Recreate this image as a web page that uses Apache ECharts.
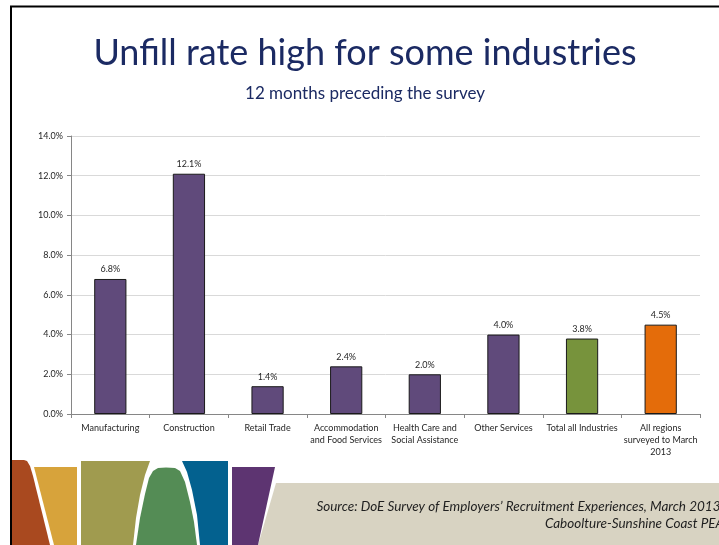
<!DOCTYPE html>
<html>
<head>
<meta charset="utf-8">
<script src="https://cdn.jsdelivr.net/npm/echarts@6/dist/echarts.min.js"></script>
<style>
html,body{margin:0;padding:0;background:#fff;}
#chart{width:719px;height:545px;}
</style>
</head>
<body>
<div id="chart"></div>
<script>
var categories = ['Manufacturing', 'Construction', 'Retail Trade', 'Accommodation\nand Food Services', 'Health Care and\nSocial Assistance', 'Other Services', 'Total all Industries', 'All regions\nsurveyed to March\n2013'];
var values = [6.8, 12.1, 1.4, 2.4, 2.0, 4.0, 3.8, 4.5];
var barColors = ['#604a7b', '#604a7b', '#604a7b', '#604a7b', '#604a7b', '#604a7b', '#77933c', '#e46c0a'];
var yTicks = [0, 2, 4, 6, 8, 10, 12, 14];

var FONT = 'Lato, "Open Sans", sans-serif';
var chart = echarts.init(document.getElementById('chart'), null, {renderer: 'canvas'});

var seriesData = values.map(function (v, i) {
  return {value: v, itemStyle: {color: barColors[i]}};
});

function poly(points, fill) {
  return {type: 'polygon', shape: {points: points}, style: {fill: fill}, z: 10};
}

chart.setOption({
  animation: false,
  backgroundColor: '#ffffff',
  title: [{
    text: 'Unfill rate high for some industries',
    left: 360, top: 30, textAlign: 'center',
    textStyle: {fontFamily: FONT, fontSize: 36, fontWeight: 'normal', color: '#1b2a63'}
  }, {
    text: '12 months preceding the survey',
    left: 360, top: 80, textAlign: 'center',
    textStyle: {fontFamily: FONT, fontSize: 17, fontWeight: 'normal', color: '#1b2a63'}
  }],
  grid: {left: 71, right: 19, top: 136, bottom: 131, containLabel: false},
  xAxis: {
    type: 'category',
    data: categories,
    axisLine: {lineStyle: {color: '#868686', width: 1}},
    axisTick: {show: true, alignWithLabel: false, length: 4, lineStyle: {color: '#868686'}},
    axisLabel: {interval: 0, fontFamily: FONT, fontSize: 9, color: '#262626', lineHeight: 12, margin: 8}
  },
  yAxis: {
    type: 'value',
    min: 0, max: 14, interval: 2,
    axisLine: {show: true, lineStyle: {color: '#868686', width: 1}},
    axisTick: {show: true, length: 4, lineStyle: {color: '#868686'}},
    splitLine: {lineStyle: {color: '#d9d9d9', width: 1}},
    axisLabel: {
      fontFamily: FONT, fontSize: 9, color: '#262626', margin: 8,
      formatter: function (v) { return yTicks.indexOf(v) >= 0 ? v.toFixed(1) + '%' : ''; }
    }
  },
  series: [{
    type: 'bar',
    data: seriesData,
    barWidth: '41%',
    itemStyle: {borderColor: '#1a1a1a', borderWidth: 1},
    label: {
      show: true, position: 'top', distance: 5,
      fontFamily: FONT, fontSize: 9, color: '#262626',
      formatter: function (p) { return p.value.toFixed(1) + '%'; }
    }
  }],
  graphic: [
    // slide border
    {type: 'line', shape: {x1: 10, y1: 6.5, x2: 719, y2: 6.5}, style: {stroke: '#000', lineWidth: 2}, z: 100},
    {type: 'line', shape: {x1: 11, y1: 6, x2: 11, y2: 545}, style: {stroke: '#000', lineWidth: 2}, z: 100},
    // beige band
    poly([[276, 483], [719, 483], [719, 545], [258, 545]], '#d8d3c2'),
    // brown
    poly([[12, 460], [24, 460], [27, 461], [30, 466], [33, 476], [50, 545], [12, 545]], '#a9491f'),
    // gold
    poly([[34, 467], [77, 467], [77, 545], [54, 545]], '#d7a33b'),
    // olive
    poly([[81, 461], [150, 461], [145, 475], [140, 495], [136, 518], [133, 545], [81, 545]], '#a09b4f'),
    // green
    poly([[136, 545], [140, 518], [145, 494], [149, 478], [153, 471], [158, 468], [166, 467.5], [175, 468], [180, 471], [185, 482], [190, 502], [194, 522], [197, 545]], '#548c55'),
    // blue
    poly([[182, 461], [228, 461], [228, 545], [200, 545], [197, 515], [192, 490], [187, 472]], '#03618f'),
    // purple
    poly([[232, 467], [275, 467], [258, 545], [232, 545]], '#5d3471'),
    // source text
    {type: 'text', right: -5, top: 500, z: 20,
      style: {text: 'Source: DoE Survey of Employers\u2019 Recruitment Experiences, March 2013;', textAlign: 'right',
        font: 'italic 13.5px ' + FONT, fill: '#1f1f1f'}},
    {type: 'text', right: -5, top: 517, z: 20,
      style: {text: 'Caboolture-Sunshine Coast PEA', textAlign: 'right',
        font: 'italic 13.5px ' + FONT, fill: '#1f1f1f'}}
  ]
});
</script>
</body>
</html>
